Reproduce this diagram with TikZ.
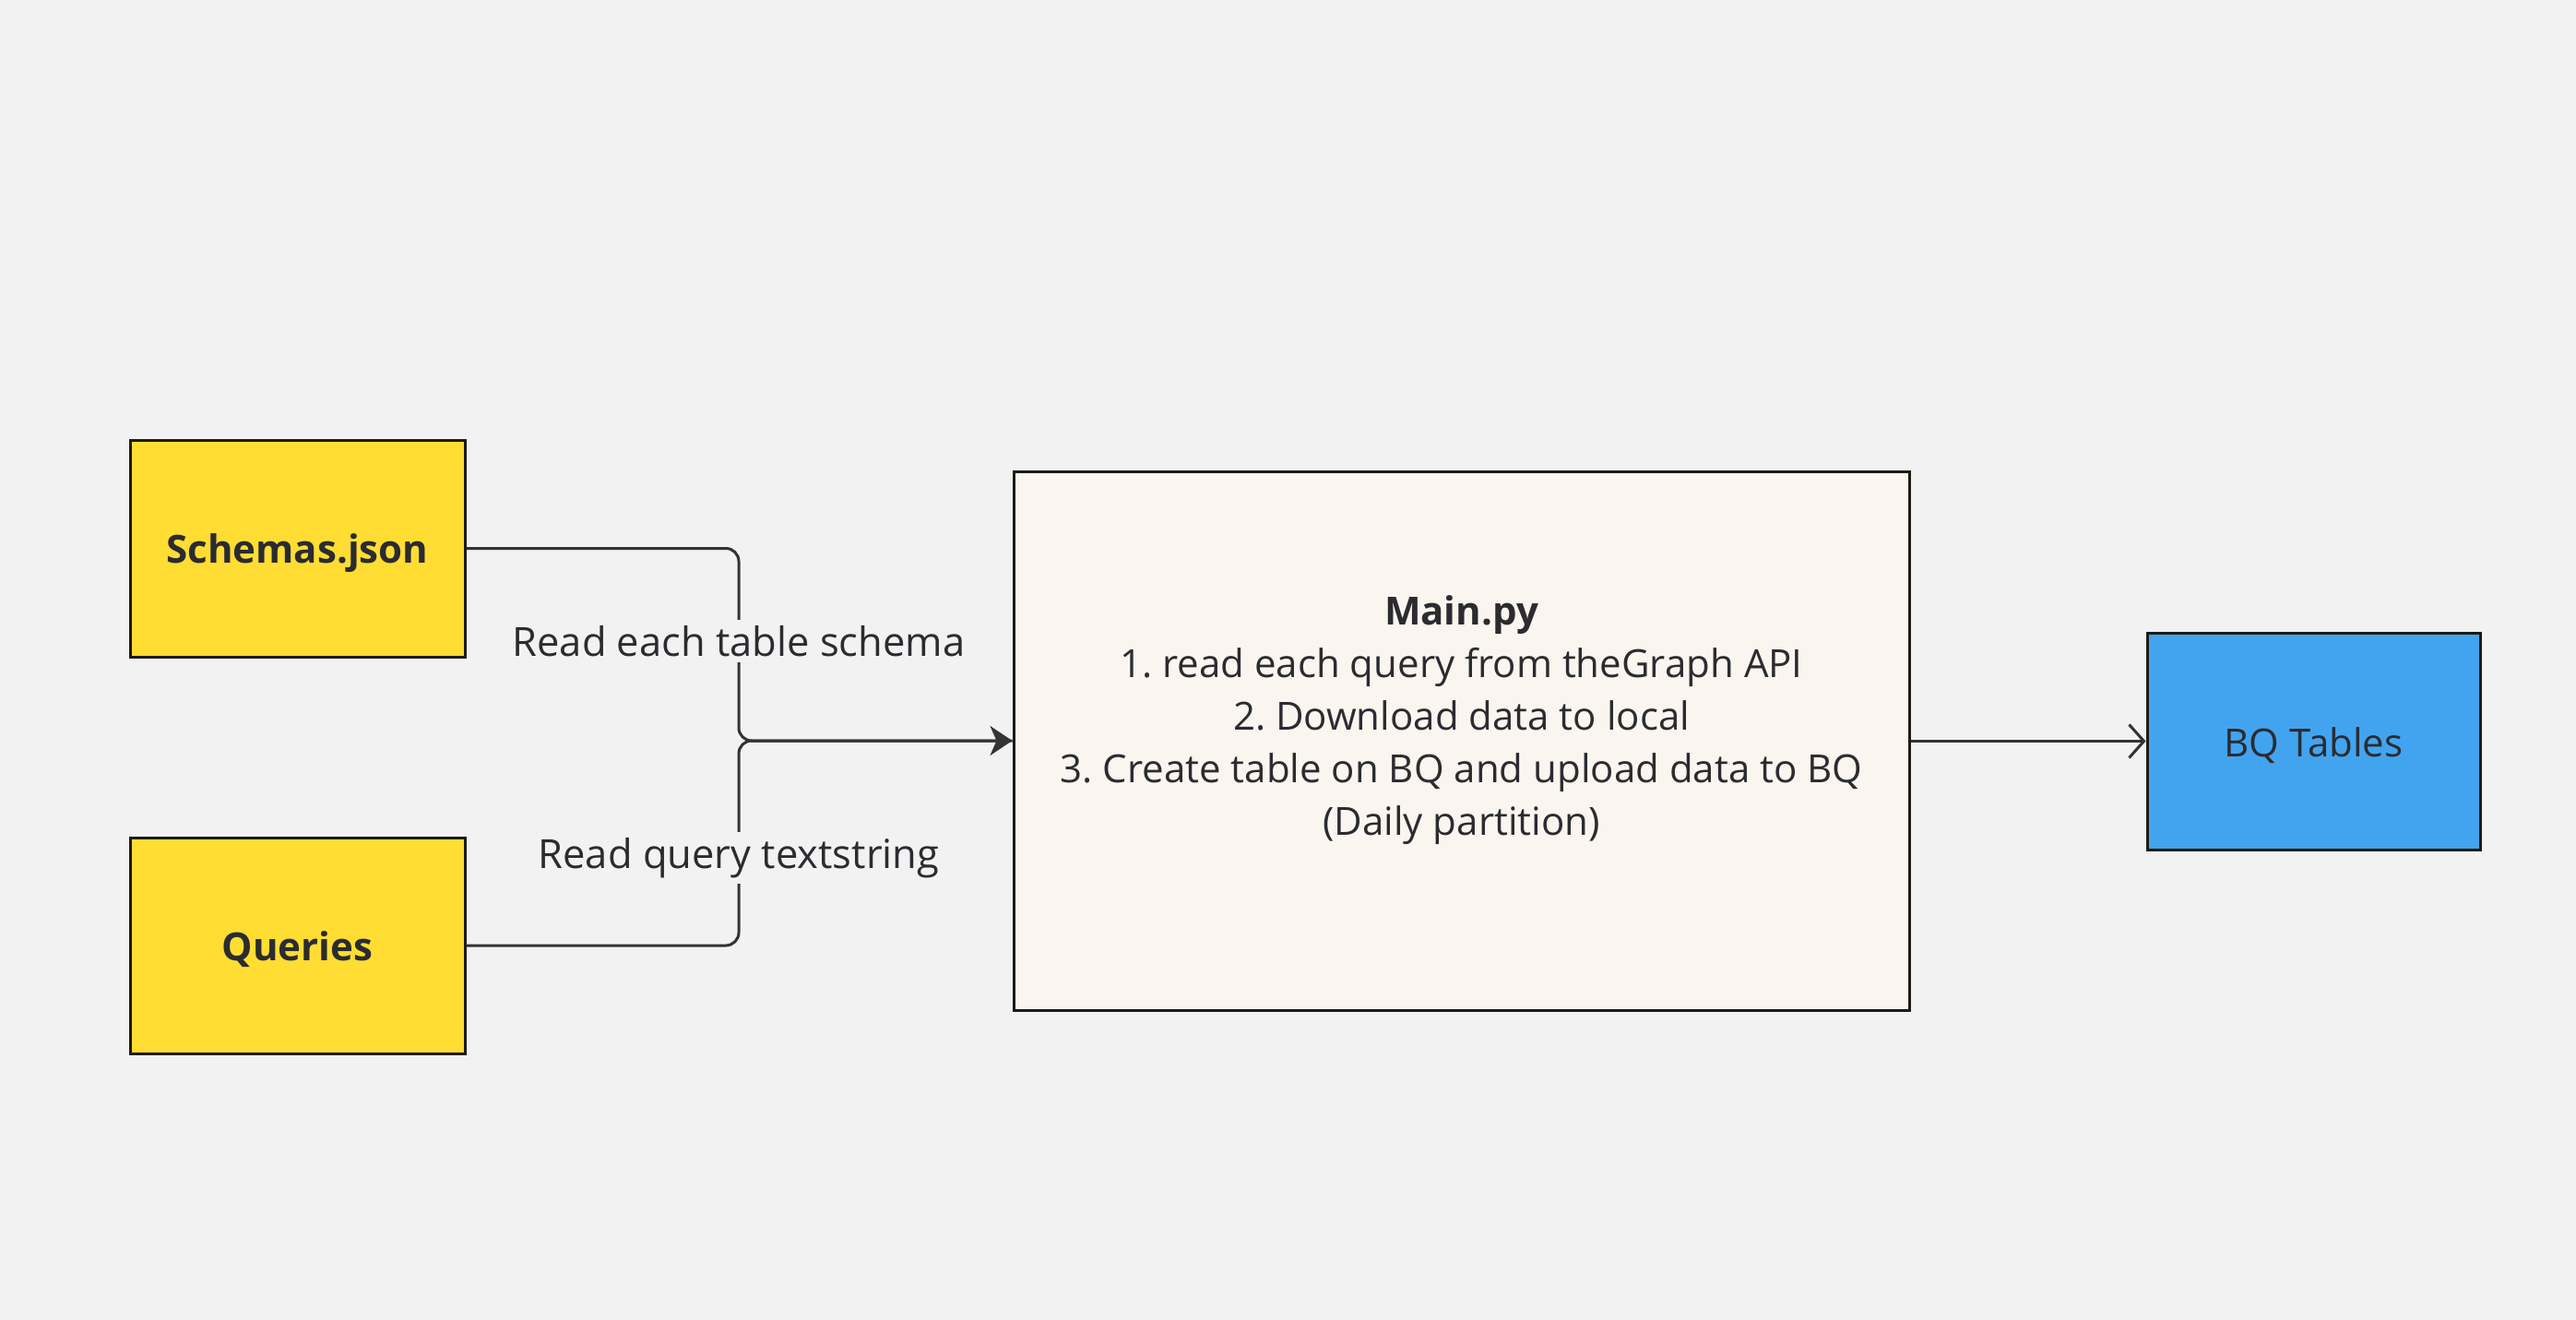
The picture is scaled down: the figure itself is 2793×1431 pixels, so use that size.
\documentclass[tikz,border=0pt]{standalone}
\usepackage{fontspec}
\setmainfont{Open Sans}
\frenchspacing
\usetikzlibrary{arrows.meta}
\definecolor{bgc}{HTML}{F2F2F2}
\definecolor{yel}{HTML}{FFDD33}
\definecolor{blu}{HTML}{42A4EF}
\definecolor{beige}{HTML}{FAF6EF}
\definecolor{bord}{HTML}{1E1A14}
\definecolor{txt}{HTML}{2B2B30}
\definecolor{conn}{HTML}{333333}
\tikzset{
  box/.style={draw=bord, line width=3pt, rectangle, inner sep=0pt},
  boxtext/.style={text=txt, align=center, font=\fontsize{42}{57}\selectfont},
  conline/.style={draw=conn, line width=3pt, rounded corners=14pt},
  lbl/.style={fill=bgc, text=txt, inner sep=6pt, font=\fontsize{43.5}{57}\selectfont},
}
\begin{document}
\begin{tikzpicture}[x=1pt,y=-1pt]
\fill[bgc] (0,0) rectangle (2793,1431);
\useasboundingbox (0,0) rectangle (2793,1431);
\node[box, fill=yel, minimum width=363pt, minimum height=235pt] (schemas) at (322.5,594.5) {};
\node[boxtext, font=\fontsize{42}{57}\selectfont\bfseries, yshift=-5pt] (schemastext) at (schemas.center) {Schemas.json};
\node[box, fill=yel, minimum width=363pt, minimum height=234pt] (queries) at (322.5,1025) {};
\node[boxtext, font=\fontsize{42}{57}\selectfont\bfseries, yshift=-4pt] (queriestext) at (queries.center) {Queries};
\node[box, fill=beige, minimum width=971pt, minimum height=584pt] (main) at (1584.5,803) {};
\node[boxtext] (maintext) at (1584.5,780.5) {{\bfseries Main.py}\\1. read each query from theGraph API\\2. Download data to local\\3. Create table on BQ and upload data to BQ\\(Daily partition)};
\node[box, fill=blu, minimum width=361pt, minimum height=235pt] (bq) at (2508.5,803.5) {};
\node[boxtext, yshift=-5pt] (bqtext) at (bq.center) {BQ Tables};
\coordinate (jn) at (801,803);
\draw[conline, -{Stealth[length=24pt,width=32pt,inset=7pt]}] (schemas.east) -- (801,594.5) -- (jn) -- (main.west);
\draw[conline] (queries.east) -- (801,1025) -- (jn) -- (main.west);
\draw[draw=conn, line width=3pt, -{Straight Barb[length=16pt,width=36pt]}] (main.east |- bq.west) -- (bq.west);
\node[lbl] (l1) at (801,695) {Read each table schema};
\node[lbl] (l2) at (801,930) {Read query textstring};
\end{tikzpicture}
\end{document}
